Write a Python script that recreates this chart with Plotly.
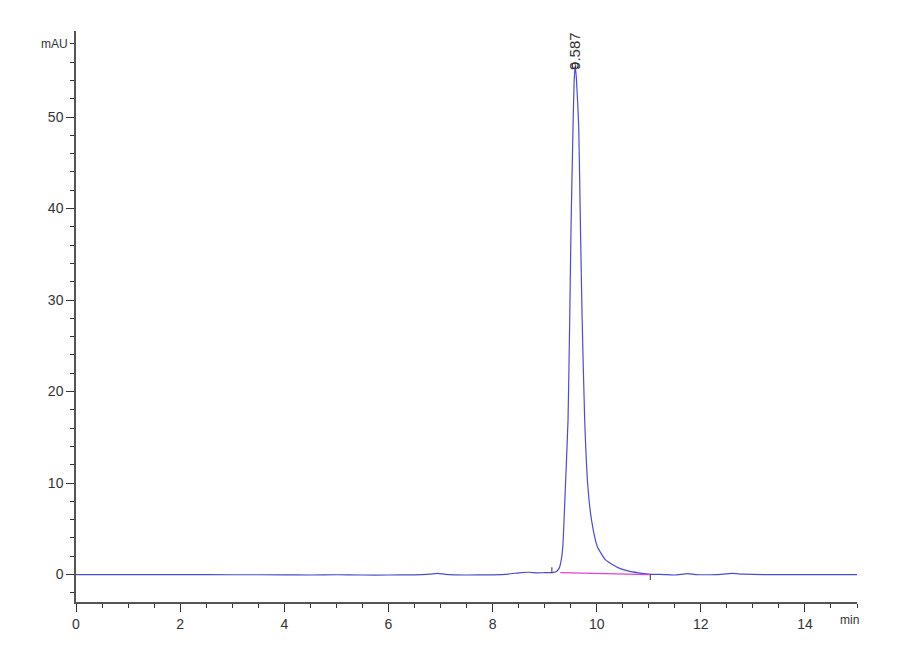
import plotly.graph_objects as go

# chromatogram signal (min, mAU)
time_min = [0.0, 0.5, 1.0, 1.5, 2.0, 3.0, 4.0, 4.5, 5.0, 5.5, 6.0, 6.5, 6.8, 6.95, 7.1,
            7.5, 8.0, 8.3, 8.55, 8.7, 8.85, 9.0, 9.15, 9.22, 9.28, 9.32, 9.35, 9.374,
            9.40, 9.45, 9.483, 9.508, 9.546, 9.567, 9.587, 9.61, 9.655, 9.688, 9.72,
            9.77, 9.83, 9.90, 10.01, 10.17, 10.42, 10.6, 10.8, 11.0, 11.3, 11.5, 11.75,
            11.9, 12.3, 12.6, 12.8, 13.2, 14.0, 15.0]
signal_mau = [0.0, 0.0, 0.0, 0.0, 0.0, -0.02, -0.03, -0.05, -0.02, -0.05, -0.05, -0.03,
              0.05, 0.12, 0.02, -0.05, -0.03, 0.05, 0.22, 0.25, 0.18, 0.2, 0.22, 0.3,
              0.7, 1.6, 3.1, 6.0, 9.7, 16.9, 28.2, 38.1, 49.0, 53.8, 55.6, 54.3, 49.0,
              38.1, 28.2, 16.9, 9.7, 6.0, 3.1, 1.6, 0.73, 0.4, 0.19, 0.05, 0.0, -0.05,
              0.1, 0.0, 0.0, 0.12, 0.05, 0.0, 0.0, 0.0]

# integration baseline
base_time = [9.3, 11.03]
base_mau = [0.2, 0.0]
# integration start / end marks
mark_time = [9.14, 11.03]
mark_lo = [0.2, -0.6]
mark_hi = [0.8, 0.0]

peak_rt = 9.587
peak_height = 55.6
peak_label = "9.587"

font = dict(family="Liberation Sans Narrow, Liberation Sans, Arial", size=14, color="#333333")

fig = go.Figure()
fig.add_trace(go.Scatter(x=time_min, y=signal_mau, mode="lines",
                         line=dict(color="#4b4bd6", width=1.2, shape="spline", smoothing=0.5),
                         hoverinfo="skip"))
fig.add_trace(go.Scatter(x=base_time, y=base_mau, mode="lines",
                         line=dict(color="#e040e0", width=1.2), hoverinfo="skip"))
for t, lo, hi in zip(mark_time, mark_lo, mark_hi):
    fig.add_trace(go.Scatter(x=[t, t], y=[lo, hi], mode="lines",
                             line=dict(color="#333333", width=1), hoverinfo="skip"))
fig.add_trace(go.Scatter(x=[peak_rt], y=[peak_height], mode="markers",
                         marker=dict(symbol="circle-open", size=6, color="#333333",
                                     line=dict(width=1.2)), hoverinfo="skip"))

fig.add_annotation(x=peak_rt, y=peak_height, text=peak_label, textangle=-90,
                   showarrow=False, yanchor="bottom", yshift=-6,
                   font=dict(family=font["family"], size=15, color="#333333"))
fig.add_annotation(xref="paper", x=0, y=58, text="mAU", showarrow=False,
                   xanchor="right", xshift=-6, font=dict(family=font["family"], size=12, color="#333333"))
fig.add_annotation(xref="paper", yref="paper", x=1, y=0, text="min", showarrow=False,
                   xanchor="right", yanchor="top", yshift=-9, xshift=4,
                   font=dict(family=font["family"], size=12, color="#333333"))

# page body adds an 8px offset, margins account for it
fig.update_layout(width=900, height=660, showlegend=False,
                  paper_bgcolor="white", plot_bgcolor="white",
                  margin=dict(l=68, r=51, t=23, b=66))
fig.update_xaxes(range=[0, 15], tick0=0, dtick=2, ticks="outside", ticklen=8,
                 tickcolor="#333333", showline=True, linecolor="#555555", linewidth=1.5,
                 showgrid=False, zeroline=False, tickfont=font,
                 minor=dict(dtick=0.5, ticks="outside", ticklen=4, tickcolor="#333333"))
fig.update_yaxes(range=[-3, 59.4], tick0=0, dtick=10, ticks="outside", ticklen=8,
                 tickcolor="#333333", showline=True, linecolor="#555555", linewidth=1.5,
                 showgrid=False, zeroline=False, tickfont=font,
                 minor=dict(dtick=2, ticks="outside", ticklen=4, tickcolor="#333333"))

fig.write_html("out.html")
